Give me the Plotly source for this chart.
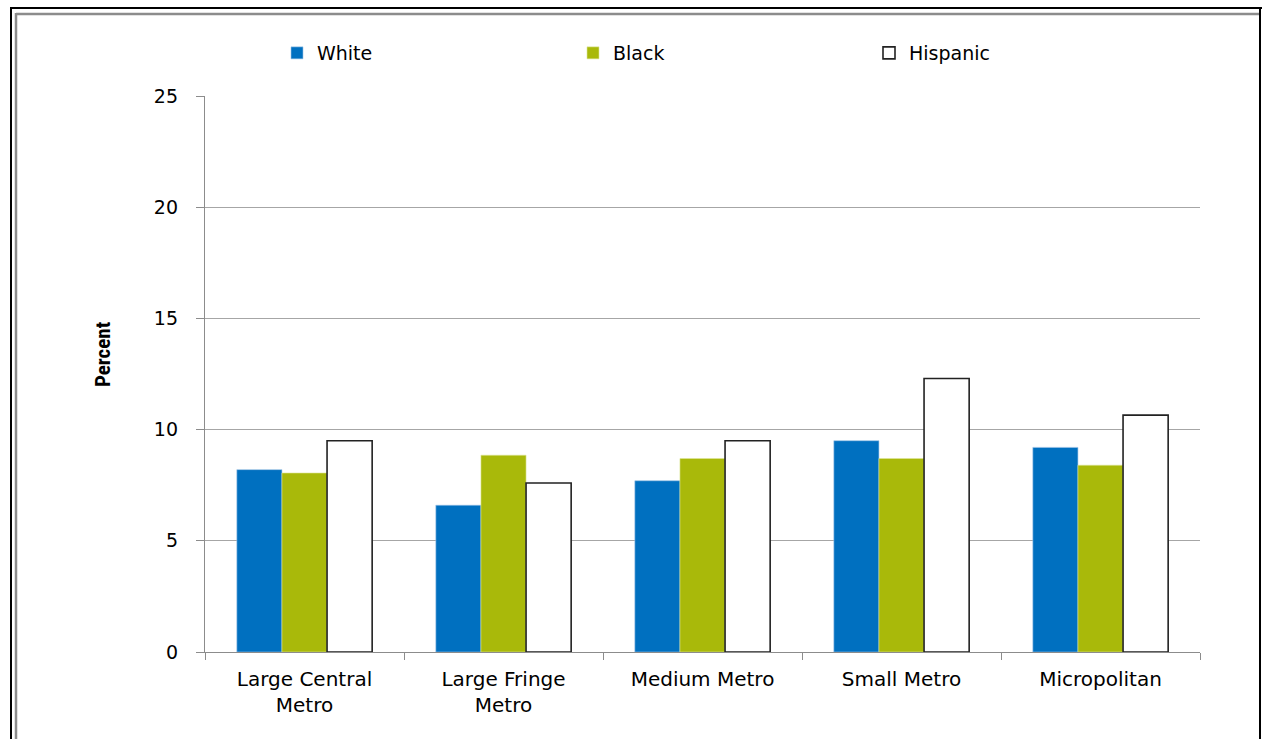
import plotly.graph_objects as go

# Chart data
categories = ["Large Central<br>Metro", "Large Fringe<br>Metro", "Medium Metro", "Small Metro", "Micropolitan"]
white = [8.2, 6.6, 7.7, 9.5, 9.2]
black = [8.05, 8.85, 8.7, 8.7, 8.4]
hispanic = [9.5, 7.6, 9.5, 12.3, 10.65]
y_ticks = [0, 5, 10, 15, 20, 25]

W, H = 1262, 739
L, R, T, B = 205, 1200, 96, 652  # plot area in pixels

def px_x(x):
    return (x - L) / (R - L)

def px_y(y):
    return (B - y) / (B - T)

fig = go.Figure()
fig.add_trace(go.Bar(name="White", x=categories, y=white,
                     marker=dict(color="#0070C0", line=dict(color="#9DC3E6", width=0.6))))
fig.add_trace(go.Bar(name="Black", x=categories, y=black,
                     marker=dict(color="#A9B90A", line=dict(color="#DDE59A", width=0.6))))
fig.add_trace(go.Bar(name="Hispanic", x=categories, y=hispanic,
                     marker=dict(color="#FFFFFF", line=dict(color="#222222", width=1.6))))

font_main = "DejaVu Sans, sans-serif"

# Double frame around the chart (black outer, gray inner)
shapes = [
    dict(type="line", xref="paper", yref="paper", x0=px_x(11), x1=px_x(11), y0=px_y(7), y1=px_y(760),
         line=dict(color="black", width=2)),
    dict(type="line", xref="paper", yref="paper", x0=px_x(10), x1=px_x(1270), y0=px_y(8), y1=px_y(8),
         line=dict(color="black", width=2)),
    dict(type="line", xref="paper", yref="paper", x0=px_x(1260), x1=px_x(1260), y0=px_y(7), y1=px_y(760),
         line=dict(color="black", width=2)),
    dict(type="line", xref="paper", yref="paper", x0=px_x(16), x1=px_x(1259), y0=px_y(14), y1=px_y(14),
         line=dict(color="#8C8C8C", width=2.5)),
    dict(type="line", xref="paper", yref="paper", x0=px_x(16), x1=px_x(16), y0=px_y(13), y1=px_y(760),
         line=dict(color="#8C8C8C", width=2.5)),
]

fig.update_layout(
    width=W, height=H,
    margin=dict(l=L, r=W - R, t=T, b=H - B, pad=0),
    paper_bgcolor="white", plot_bgcolor="white",
    barmode="group", bargap=0.32, bargroupgap=0,
    font=dict(family=font_main, size=19, color="black"),
    showlegend=True,
    legend=dict(orientation="h", x=px_x(277), y=px_y(34), xanchor="left", yanchor="top",
                entrywidth=251, entrywidthmode="pixels", font=dict(size=19, family=font_main),
                itemclick=False, bgcolor="rgba(0,0,0,0)"),
    xaxis=dict(showline=True, linecolor="#8C8C8C", linewidth=1.3,
               ticks="outside", ticklen=7, tickcolor="#8C8C8C", tickson="boundaries",
               tickfont=dict(size=20, family=font_main), ticklabelstandoff=9,
               showgrid=False, fixedrange=True),
    yaxis=dict(range=[0, 25], tickvals=y_ticks, showline=True, linecolor="#8C8C8C", linewidth=1.3,
               ticks="outside", ticklen=8, tickcolor="#8C8C8C",
               showgrid=True, gridcolor="#A6A6A6", gridwidth=1.2,
               tickfont=dict(size=19, family=font_main), ticklabelstandoff=14,
               zeroline=False, fixedrange=True),
    shapes=shapes,
    annotations=[dict(text="<b>Percent</b>", xref="paper", yref="paper", x=px_x(103), y=px_y(355),
                      xanchor="center", yanchor="middle", showarrow=False, textangle=-90,
                      font=dict(family="Liberation Sans Narrow, Roboto Condensed, sans-serif", size=21))],
)

fig.write_html("out.html")
